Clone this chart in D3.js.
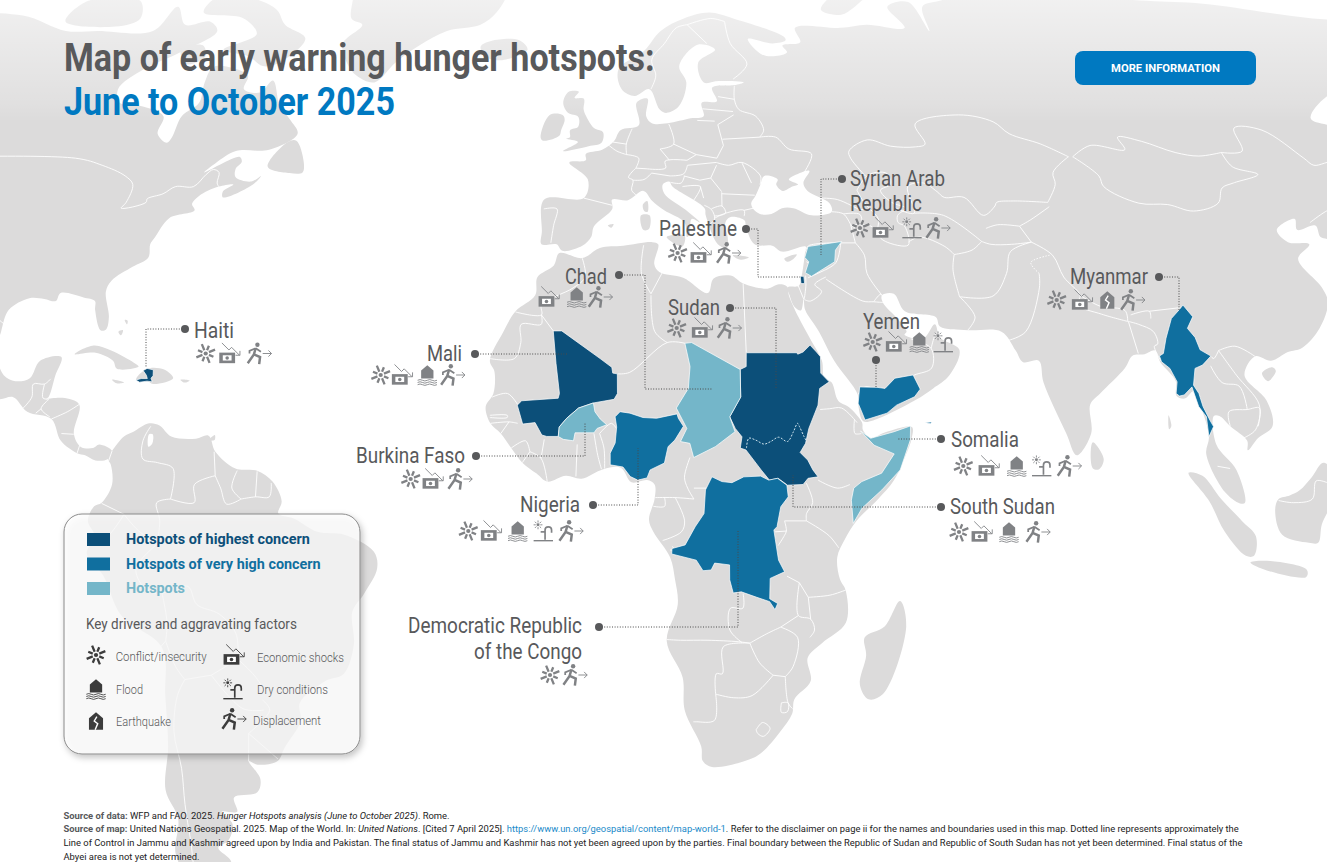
<!DOCTYPE html>
<html>
<head>
<meta charset="utf-8">
<script src="https://cdn.jsdelivr.net/npm/d3@7"></script>
<style>
	body { margin: 0; background: #fff; overflow: hidden; }
	svg { display: block; font-family: Roboto, sans-serif; }
</style>
</head>
<body>
<div id="chart"></div>
<script>
// Coastlines, [lon, lat]
const northAmerica = [[-140,60],[-140,70],[-128,70.5],[-115,68],[-108,68],[-96,68],[-95,72],[-90,69],[-85,69.5],[-82,68],[-87,64.5],[-92,62],[-94.5,59],[-92.5,57],[-88,56.5],[-82.5,55],[-82,52.5],[-79.5,51.2],[-79,52],[-79,55],[-77,57],[-78,60],[-78,62.4],[-73,62],[-70,61],[-69.5,59],[-66,58.5],[-64.5,60.3],[-61,56.5],[-58,54.5],[-55.7,52.5],[-60,50.2],[-66,50],[-69,48.3],[-70.5,47],[-65,49.2],[-64.3,48.5],[-65,47.5],[-64.5,46.3],[-61.5,45.7],[-60,46.5],[-61,45.3],[-65.7,43.5],[-66,44.3],[-64.5,45.3],[-67,45],[-70,43.7],[-70.8,42.6],[-70,41.7],[-74,40.6],[-75.5,38],[-76,37],[-75.7,35.2],[-78,33.9],[-81,32],[-81.5,30.5],[-80.2,27],[-80.3,25.3],[-81.2,25.2],[-82.7,28],[-83,29.2],[-85,29.7],[-89,30.3],[-89.5,29.2],[-91.5,29.5],[-94,29.6],[-97,28],[-97.5,25],[-97.8,22.3],[-96,19],[-94,18.2],[-91.7,18.6],[-90.4,21],[-87,21.5],[-87.6,19],[-88.3,16],[-88.7,15.8],[-86,15.9],[-83.2,15],[-83.7,11],[-82.5,9.2],[-80.5,9],[-79.5,9.5],[-77.4,8.6],[-78,7.5],[-80,7.3],[-81.7,8],[-83,8.3],[-85.7,10],[-87.5,13],[-91.5,14],[-94,16],[-96.5,15.7],[-101,17.3],[-105.5,20],[-105.5,22.5],[-109,26],[-112.5,30],[-114.7,31.5],[-117,32.5],[-120.5,34.5],[-124,40],[-124.5,48],[-130,54],[-135,58]];
const southAmerica = [[-77.4,8.6],[-75.6,10.6],[-74.2,11.2],[-71.7,12.4],[-70,12.1],[-68,10.6],[-64,10.3],[-62,10.7],[-60.8,8.5],[-57.5,6.2],[-54,5.9],[-51.5,4.4],[-50,1.7],[-50.5,0],[-48,-0.7],[-44.3,-2.5],[-40,-2.9],[-35.3,-5.2],[-34.8,-7.5],[-37,-11],[-39,-13.5],[-39,-18],[-40.9,-22],[-44,-23],[-48.5,-26],[-48.7,-28.5],[-52,-32.2],[-53.5,-34],[-57,-34.5],[-58.4,-34],[-57,-36.5],[-58,-38.3],[-62.2,-39],[-62.3,-41],[-65,-41],[-63.7,-42.7],[-65.3,-45],[-67.5,-46],[-66,-48],[-69,-51],[-68.5,-52.5],[-70,-53.5],[-74,-52],[-75.6,-47],[-73,-42],[-73.7,-38],[-71.5,-32],[-70.5,-25],[-70.2,-18.4],[-76.3,-14],[-78.8,-8.5],[-81.3,-5.5],[-80,-3],[-81,-1],[-80,1],[-78.8,1.5],[-77.2,4],[-77.5,6.7],[-78,7.5]];
const africa = [[-5.9,35.8],[-2,35.1],[1,36.5],[5,36.8],[10,37.3],[11,37],[10.2,34.3],[11,33.2],[15,32.4],[19,30.3],[20.1,32.3],[23,32.7],[25,31.6],[29,30.9],[31,31.5],[32.3,31.2],[32.5,29.9],[33.8,27],[35.5,24],[37.2,21],[37.4,18.7],[38.6,18],[39.5,15.5],[41.2,14.6],[43.2,12.5],[43.3,11.5],[44.5,10.4],[47,11.2],[51.2,11.9],[51.1,10.4],[49.5,7],[48,4.5],[45.5,2],[42,-1],[40.2,-3.5],[39,-6],[39.5,-9],[40.5,-10.6],[40.7,-15],[37,-17.8],[34.8,-19.8],[35.5,-23],[33,-25.5],[32.8,-27.5],[31,-30],[28,-33],[25.5,-34],[20,-34.8],[18.4,-34],[18,-32],[15,-27],[14.5,-22.5],[11.8,-17.5],[13.5,-12.5],[13,-9],[12.2,-6],[9.5,-2.5],[8.8,-0.8],[9.7,2],[9.7,4],[8.5,4.6],[6,4.3],[4.3,6.3],[1.5,6.1],[-2,4.8],[-4.5,5.2],[-7.5,4.4],[-9.2,5.5],[-11.5,7],[-13.3,9],[-15,11],[-16.7,12.4],[-17.5,14.7],[-16.3,16.5],[-16.2,19.5],[-17,21],[-14.9,25],[-13,27.8],[-9.8,30],[-9.5,32.5],[-6.8,34.1]];
const eurasia = [[-9,38.7],[-8.8,43.2],[-1.8,43.4],[-1.1,46],[-4.5,48.4],[-1.5,48.7],[-1.5,49.6],[1.5,50.2],[3.7,51.4],[5,53],[8.5,53.7],[8.3,57],[10.5,57.6],[10,55],[11,54],[14,54],[18.5,54.7],[21,55],[21,57],[24,57.2],[23.5,59.2],[28,59.6],[30,60],[25,60.2],[22,60],[21.5,63],[25.5,65],[22,65.8],[17.5,62.5],[18.5,60],[16.5,56.5],[14,55.5],[12.7,56],[11,59],[8,58],[5.5,59],[5,62],[10.5,64.8],[14.5,68],[20,70],[26,71],[31,70],[41,67],[41,66.5],[38,66],[33,66.7],[35,64.3],[37.5,64],[40.5,64.6],[40,65.7],[44,66.2],[44,68.5],[54,68.5],[60,69],[68,68.5],[67,72],[72.5,72.8],[73,68],[75,72],[80,73],[105,77],[113,74],[128,73],[140,72.5],[160,70],[180,69],[180,65],[177,62.5],[163,60],[162,56],[156,51],[156,57],[163,62],[155,59],[146,58.5],[137,54.7],[141,53],[140,48],[135,43.5],[130.7,42.3],[127.5,39.8],[129.4,37],[129,35.2],[126.4,34.5],[126.5,37.5],[125,38],[125,39.6],[121.5,39],[122,40.5],[118,39],[119,37.3],[122.5,37],[119.5,35],[121.8,31],[122,29],[119.5,25.5],[116,22.8],[113.5,22.2],[110.5,21],[108,21.6],[105.8,19],[108.8,15.5],[109.3,12],[106.8,10.4],[105,8.7],[105,10],[102.5,12],[100.9,13.4],[100,13.4],[100,9.5],[103,6],[104.2,1.5],[103.4,1.4],[101,3],[98.3,8.2],[98.9,10.5],[98.4,13.5],[97.2,16.8],[95.6,15.8],[94.3,16.2],[94.5,18.2],[92.4,20.8],[91.8,22.4],[90,21.9],[88,21.7],[86.5,20],[82,16.5],[80.2,15],[80,11],[77.5,8],[76,11],[73,18],[72.6,21],[70,20.8],[69,22.4],[67,25],[61.5,25.2],[57,25.7],[56.5,27],[51.5,27.8],[50,30.2],[48,30],[48,29],[50.2,26.7],[51.4,25],[51,24.6],[54,24],[56.2,26],[56.8,24.2],[59.8,22.5],[57.8,19],[55,17.2],[52,15.6],[45,12.8],[43.4,12.7],[42.7,15],[42.7,16.4],[39.2,21],[37,25],[35,28],[34.9,29.5],[34.3,27.9],[33.2,28.5],[32.6,30],[32.4,31.1],[34.3,31.3],[35,32.8],[36,36],[36.2,36.7],[32,36],[30.5,36.8],[27.5,37],[26.3,39.5],[26.2,40.3],[24,40.8],[23,40.3],[22.7,39.5],[23,38],[22.7,36.5],[21.2,37],[19.5,41],[19.4,42],[14,45],[13.5,45.7],[12.3,45.3],[12.5,44],[16,41.8],[18.4,40],[17,40.5],[16.5,38.5],[16,38],[15.7,40],[12.3,41.7],[10.3,43],[8.8,44.4],[6,43.1],[3.2,43.2],[3.2,41.9],[0,39.5],[-0.5,38],[-2,36.8],[-5.4,36.1],[-6.4,37],[-9,37]];
const islands = [
	[[-73,78],[-68,76],[-58,75.5],[-54,70],[-51,69],[-53.5,66],[-51,63],[-48,61],[-44,60],[-41,63],[-37,65.7],[-32,68],[-25,69],[-22,71],[-20,75],[-20,80],[-60,82]],
	[[-80,73.5],[-72,71.5],[-68,69],[-62,66.8],[-65,63],[-68,62.5],[-72,64],[-78,65],[-73,67.5],[-78,70],[-88,71],[-88,73.5]],
	[[-117,73],[-117,69.5],[-105,68.7],[-101,70],[-105,73]],
	[[-87,65],[-83,65.7],[-81,64],[-84,62.8]],
	[[-59.3,47.8],[-57,51.3],[-55.5,51.5],[-53,48.5],[-52.7,47],[-55,46.9]],
	[[-84.9,21.9],[-82,23.1],[-79,22.4],[-75,20.7],[-74.2,20.2],[-77.7,19.9],[-78.5,21],[-81.5,22.1]],
	[[-74.4,18.4],[-72.8,19.9],[-70,19.8],[-68.4,18.6],[-71.5,17.8],[-72.5,18.2]],
	[[-78.3,18.4],[-76.3,18],[-77.5,17.9]],
	[[-67.2,18.4],[-65.7,18.3],[-66.5,18]],
	[[-78.2,25],[-77.7,24.5],[-77.5,25.2]],
	[[-77.5,26.6],[-77,26.5],[-77,26]],
	[[-61.9,10.1],[-61,10.8],[-61,10.1]],
	[[49.3,-12],[50.5,-15.5],[47.5,-24.8],[45.2,-25.5],[43.6,-23.5],[44.3,-19.5],[43.9,-17],[47,-15.5]],
	[[-5.7,50],[-1,50.7],[1.4,51.2],[1.7,52.7],[0,53.3],[-1.5,55],[-2,56],[-2,57.6],[-3.8,57.7],[-3,58.6],[-5,58.6],[-6,57],[-5,55.5],[-3,54.9],[-3,53.5],[-4.5,53],[-4.5,52],[-5.2,51.8],[-3,51.3]],
	[[-10,52],[-8.5,55.2],[-6,55.2],[-5.6,54.5],[-6.2,53],[-6.5,52.2],[-9.5,51.5]],
	[[-24,65.5],[-22,66.4],[-16,66.5],[-14,65],[-19,63.4],[-22.5,63.9]],
	[[12.5,38],[15.6,38.2],[15.1,36.7]],
	[[8.2,41],[9.7,41],[9.5,39.1],[8.5,39]],
	[[8.6,42.5],[9.4,43],[9.4,41.5],[8.8,41.6]],
	[[32.3,35],[34.5,35.6],[33.7,34.9],[32.8,34.6]],
	[[23.6,35.5],[26.3,35.2],[24.7,34.9]],
	[[2.4,39.6],[3.4,39.8],[3,39.3]],
	[[51.5,71.5],[56,74],[68,77],[68,76],[57,71],[55,70.6]],
	[[142,54.3],[143.5,52],[143,49],[143.5,46.2],[142,46],[142,49]],
	[[140,42],[141.7,45.4],[145.3,43.7],[143,42],[141,42.5]],
	[[108.7,19.3],[110.5,20.1],[111,19.6],[109.5,18.2]],
	[[79.8,8.8],[80.2,9.8],[81.8,7.5],[81,6.1],[80,6.2]],
	[[95.3,5.6],[97.5,5.2],[100.4,2],[103.7,-1],[106,-3.1],[105.8,-5.8],[104.5,-5.8],[101,-2.5],[98.5,1.7]],
	[[105.3,-6.7],[108.5,-6.5],[114.4,-7.7],[114.4,-8.7],[108,-7.8]],
	[[109,0.5],[109.6,2],[111.4,2.5],[113,3.2],[115,5],[117,7],[119,5],[117.8,1],[116.5,-1.5],[116,-4],[114.5,-4],[110.2,-2.9]],
	[[92.7,13.5],[93,12],[92.6,11.6]],
];
// Enclosed water that the coast rings above do not cut out
const seas = [
	[[29,41.2],[28,41.8],[27.7,42.7],[28.6,43.7],[29.7,45.2],[30.7,46.5],[33,46],[32.6,45.3],[33.6,44.4],[35.4,45],[36.5,45.3],[35,46],[37.5,47],[39,47.2],[37.5,45.5],[38,44.4],[41.5,42.7],[41.6,41.5],[38,41],[35,42],[33,42],[31,41.2]],
	[[-71.6,10.9],[-71,10.9],[-71,9.6],[-71.6,9.2]],
];
// Country borders, drawn white over the land
const borders = [
	[[-130,49],[-95,49],[-89.5,48],[-84.5,46.5],[-82.5,45.3],[-82.5,42.8],[-83,42],[-79,42.8],[-79,43.3],[-76.5,44],[-74.7,45],[-71.5,45],[-70,46.7],[-69,47.4],[-67.8,47],[-67.5,45.5],[-67,45]],
	[[-117,32.5],[-114.7,32.5],[-111,31.3],[-108,31.5],[-106.5,31.7],[-104.5,29.5],[-103,29],[-101.5,29.8],[-99.5,27.5],[-97.2,26]],
	[[-92.2,14.5],[-91,16],[-91,17.8],[-89.2,17.8],[-88.3,18.5]],[[-89.2,17.8],[-89.2,15.9],[-88.3,15.7]],[[-88.2,15.7],[-89.3,14.4],[-87.8,13.3]],[[-89.3,14.4],[-90.1,13.8]],
	[[-87.5,13],[-85,14],[-83.2,15]],[[-85.7,11],[-83.7,10.9]],[[-83,8.3],[-82.6,9.5]],[[-77.9,7.2],[-77.4,8.6]],
	[[-71.4,12],[-72.5,10],[-72.4,7.5],[-70,7],[-67.5,6.2],[-67.8,2]],[[-67.8,2],[-70,1.5],[-69.5,-1],[-70,-4.2]],[[-70,-4.2],[-73,-2.3],[-75.2,-0.1]],[[-75.2,-0.1],[-78.8,1.4]],[[-75.2,-0.1],[-78.3,-3.4],[-80.2,-3.5]],
	[[-67.8,2],[-64,1.5],[-64,4],[-60.7,5.2]],[[-60.7,5.2],[-61,8.5]],[[-60.7,5.2],[-59.8,3.5],[-58.8,1.3],[-56.5,2]],[[-57.2,5.9],[-58,3.5],[-56.5,2]],[[-54,5.8],[-54.2,2.3]],[[-56.5,2],[-54.2,2.3],[-52,2.3],[-51.7,4.2]],
	[[-70,-4.2],[-73.5,-7.5],[-72.5,-10],[-70.5,-11]],[[-69.5,-11],[-69,-15],[-69.5,-17.5]],[[-69.5,-11],[-65.3,-10],[-64,-12.5],[-60.5,-13.8],[-58,-16.5],[-58,-20]],[[-58,-20],[-62.6,-22.2]],[[-62.6,-22.2],[-67,-22.8]],[[-69.5,-17.5],[-68.3,-21],[-67,-22.8]],[[-69.5,-17.5],[-70.4,-18.3]],
	[[-67,-22.8],[-68.5,-25],[-70,-30],[-70,-35],[-71,-40],[-72,-45],[-73,-50],[-69,-52]],[[-58,-20],[-55.5,-22.3],[-54.3,-24]],[[-62.6,-22.2],[-58,-26.8],[-54.6,-27]],[[-54.6,-25.6],[-53.6,-27],[-57.6,-30.2]],[[-57.6,-30.2],[-53.4,-33.7]],[[-57.6,-30.2],[-58.4,-34]],
	// Europe
	[[-8.8,41.9],[-6.5,41.9],[-7,39.6],[-7.4,37.2]],[[-1.8,43.4],[3.2,42.4]],[[2.5,51],[4.2,50],[6,49.5]],[[6,49.5],[8.2,49],[7.6,47.6]],[[7.6,47.6],[6.2,46.3],[7,45.9],[6.7,44.5],[7.5,43.8]],[[3.5,51.3],[6,51]],[[7.2,53.2],[6,51],[6,49.5]],[[7.6,47.6],[9.6,47.5]],[[7,45.9],[9,46],[10.4,46.9]],[[9.6,47.5],[13,47.6],[13,48.6],[17,48.7]],[[10.4,46.9],[13.7,46.5]],[[13.7,46.5],[16.2,46.8],[17,48]],
	[[14.2,53.9],[14.8,51],[12.2,50.3]],[[12.2,50.3],[13.8,48.7]],[[14.8,51],[18.8,49.5]],[[17,48.7],[18.8,49.5]],[[18.8,49.5],[22.5,49]],[[17,48],[22.3,48.4]],[[22.5,49],[24,50.8]],[[24,50.8],[23.5,53.8]],[[19.7,54.4],[23,54.3]],[[23.5,53.8],[26.8,55.2]],[[21,56.1],[26.8,55.7]],[[24.4,57.9],[27.5,57.5]],[[28,59.5],[27.5,57.5],[28,56],[31,55],[32,53],[31,52]],[[24,51.7],[31,52]],[[31,52],[34,52],[36,50.3],[40,49.6],[38,47]],
	[[22.3,48.4],[24.5,48],[27,48.4],[30,46.5],[29.7,45.3]],[[27,48.3],[28.2,45.5]],[[22.3,48],[21,46.2]],[[21,46.2],[22.7,44.3]],[[22.7,44],[28.5,43.8]],[[16.2,46.5],[19,45.9]],[[19,45.9],[21,46.2]],[[15.8,45],[19,45],[17.5,43]],[[19,45],[19.4,43.4]],[[13.7,45.6],[15.6,45.5],[16.3,46.5]],[[22.7,44.2],[22.5,42.3]],[[19.4,42.4],[20.6,41.8],[21,40.5],[20,39.7]],[[20.6,41.9],[22.5,42.3],[23,41.3],[21,40.9]],[[21,40.6],[23,41.3],[26.3,41.7],[26.2,40.9]],[[26.3,41.7],[28,42]],
	[[11.3,59],[12.5,61],[12,63.5],[15,66],[18,68.5],[20.5,69]],[[20.5,69],[24,66]],[[20.5,69],[26,70],[28.9,69.5]],[[28.9,69.5],[29,66],[31.5,62.8],[28,60.5]],
	// Middle East and Central Asia
	[[36,36],[36.7,36.8],[42.3,37.2]],[[42.3,37.2],[41,34.5],[38.8,33.4]],[[38.8,33.4],[36,32.4]],[[36,34.6],[36.6,34.2],[35.8,33.3]],[[35.6,32.7],[35.5,31.4],[35,29.5]],[[34.2,31.3],[34.9,29.5]],[[39,32.5],[37,31.5],[38,30.5],[36,29.2],[35,29.4]],[[39,32.2],[44.7,29.2],[46.5,29.1],[48,29]],[[46.5,29.1],[47.7,30.1],[48,30]],[[48,30],[46,33],[46,35.5],[44.8,37.2]],[[42.3,37.2],[44.8,37.2]],[[44.8,37.2],[44.5,39.7]],[[41.6,41.5],[43.6,41.2],[44.5,39.7]],[[43.6,41.2],[46.5,41.1],[46,38.9],[44.5,39.7]],[[40,43.4],[43,43.2],[46.5,41.8]],[[46.5,41.8],[48.5,41.8]],[[44.8,39.7],[48,39.5],[48.9,38.4]],
	[[42.8,16.4],[44,17.4],[47,16.9],[52,19],[55,20],[55.2,22.7],[52,24]],[[55.2,22.7],[56,24.5],[56.4,24.9]],
	[[46.8,44.5],[47.5,43],[48.5,41.8],[49.5,40.5],[48.9,38.4],[50,37.4],[53.8,36.9],[53.8,39.5],[52.8,40],[53,41],[54.7,42],[52.5,42.8],[51,44.5],[53,45.3],[53,46.8],[51,47],[49,46.4],[46.8,44.5]],
	[[49,46.4],[47,49],[47,50],[51,51.6],[55,50.7],[59.5,50.6],[61.5,51],[61,53.9],[70,55.2],[76,54.2],[78,52.5],[83,51],[87,49.2]],[[87,49.2],[83,47],[82.5,45.3],[80,42.8]],
	[[53,42],[56,41.3],[56,45],[59,45.5],[61,44.3],[62,43.5],[65.5,43.5],[68,41],[70.5,42.3],[71,42.8],[74,43],[80,42.8]],[[80,42.2],[76,40.4],[73.7,39.5]],[[73.7,39.5],[70,39.7],[67.8,39.2]],[[73.7,39.5],[75,37.3]],[[75,37.3],[71.5,37],[68,37],[66.5,37.4]],[[66.5,37.4],[64.5,36.2],[61.3,35.6]],[[61.3,35.6],[60,36.7],[56,38],[53.9,37.3]],[[56,41.3],[61,41],[66.5,37.4]],[[61.3,35.6],[60.6,33.5],[60.9,29.8]],[[60.9,29.8],[66.5,29.9],[69.5,33],[71,36],[75,37.3]],[[60.9,29.8],[63,27],[61.5,25.2]],[[68,23.8],[71,25],[74.5,31],[75,33]],
	[[75,37.3],[78,35.5],[79,32.5],[81,30],[80.3,28.7],[84,27.4],[88.1,26.4]],[[81,30],[84,28.5],[88,27.9],[88.1,26.4]],[[88.8,27.3],[92,27.8],[92,26.8]],[[92,27.8],[97.3,28.3]],[[88.2,26.4],[89,22]],[[88.2,26.4],[89.8,26],[92,25],[92.4,23.3],[91.8,23],[92.5,21]],
	// East and South-East Asia
	[[87.8,49.2],[91,46.5],[91,45],[96,42.7],[101,42.5],[105,41.6],[110,42.7],[112,44.8],[114.5,45.5],[119.8,46.7],[116,47.8],[115.5,49.8]],[[87.8,49.2],[92,50.8],[98,50.2],[98,52],[102,51.4],[107,49.8],[111,49.3],[115.5,49.8]],[[115.5,49.8],[119.5,50],[121,53.3],[126,53],[130,49],[131,48],[135,48.4],[133,45],[131,43],[130.7,42.3]],[[124.3,40],[128,41.5],[130.7,42.3]],[[126.7,37.8],[128.4,38.6]],
	[[108,21.6],[105,23],[102.2,22.4]],[[102.2,22.4],[101.2,21.3],[100.8,21.6]],[[102.2,22.4],[104.5,19],[107.5,15],[107,12]],[[100.5,20.3],[102,18],[104.7,17.5],[105.5,14.3]],[[102.5,12],[102.5,14],[105.5,14.3],[107.5,14.5],[106.5,11.5],[104.5,10.4]],[[100,6.5],[102,6.2]],[[109.6,1.8],[112,1.5],[115,2],[115.7,4.5],[117.6,4.2]],
	// Africa
	[[-2,35.1],[-1.5,32.5],[-3.5,31],[-8.7,28.7],[-8.7,27.3],[-13,27.7]],[[-8.7,27.3],[-8.7,26],[-12,26],[-12,23.5],[-13,21.3],[-17,21.3]],[[-8.7,27.3],[-6.7,25.1]],[[-16.5,16],[-14,16.5],[-12.2,14.8]],[[-16.8,13.5],[-14,13.5],[-14,13.2],[-16.8,13.2]],[[-16.7,12.4],[-13.7,12.6],[-12.3,12.4]],[[-13.7,12.6],[-15,11]],[[-13.3,9],[-11,10],[-10.3,8.5]],[[-11.5,7],[-10.3,8.5]],[[-10.3,8.5],[-8.5,7.6],[-7.5,4.4]],[[-8.5,7.6],[-8,10.2]],[[-2.9,5.1],[-2.7,9.5]],[[0,11],[0.6,8],[1.2,6.1]],[[0.9,11],[1.6,9],[1.7,6.2]],[[3.6,11.7],[2.8,12.4],[0.9,11]],
	[[3.8,19.2],[5.8,19.4],[12,23.5],[14.9,23.4]],[[9.5,30],[10,25],[12,23.5]],[[8.5,36.9],[8,33],[9.5,30.2]],[[11.5,33.1],[9.5,30.2]],[[25,31.6],[24.9,22.1]],[[15.4,7.7],[14.5,5],[15,3.5],[16,2]],[[16,3.5],[18.6,3.5]],[[16,2],[13,2.2],[9.8,2.2]],[[11.3,2.2],[11.3,1],[9.5,1]],[[13,2.2],[14.5,-1],[14,-2.5],[11,-3.7]],
	[[34,4.2],[35,1.5],[34,0],[34,-1]],[[34,-1],[37.6,-3],[39.2,-4.7]],[[30.5,-1],[34,-1]],[[29,-2.5],[30.8,-2.4]],[[30.5,-1],[30.8,-2.4],[30.5,-3],[29.5,-4.4]],[[35.9,4.6],[39,3.5],[41,4]],[[36.5,14.3],[38,14.4],[40,14.5],[42.4,12.5]],[[42,12.9],[42,11],[43,11]],
	[[31,-8.6],[33,-9.5]],[[33,-9.5],[34.5,-11.5]],[[34.5,-11.5],[38,-11.2],[40.5,-10.5]],[[33,-9.5],[33,-14],[35,-14.5],[35.7,-16],[35,-17]],[[34.5,-11.5],[35,-14.5]],[[33,-14],[30.2,-15.6]],[[30.2,-15.6],[33,-17],[32.5,-21],[31.3,-22.4]],[[31.3,-22.4],[32,-26],[32.8,-26.8]],[[30.2,-15.6],[28,-16.5],[25.3,-17.8]],[[25.3,-17.8],[27,-20.5],[29.3,-22.2]],[[29.3,-22.2],[31.3,-22.4]],[[29.3,-22.2],[26,-25],[23,-25.3],[20,-24.8]],[[25.3,-17.8],[21,-18.3],[21,-22],[20,-22],[20,-24.8]],[[20,-24.8],[20,-28.4],[17,-28.6],[16.5,-28.6]],[[11.8,-17.3],[14,-17.4],[18.5,-17.4],[23.4,-17.6],[25.3,-17.8]],[[24,-17.7],[22,-16],[22,-13],[24,-13],[24,-11]],[[12.2,-5],[13,-5],[12.5,-4.5]],
	[[27,-29.7],[28,-28.7],[29.3,-29.5],[28.3,-30.6],[27.3,-30.2],[27,-29.7]],[[30.9,-26],[32,-26],[32,-27.2],[31,-27.3],[30.9,-26]],
];
// Dotted lines: Jammu and Kashmir, Sudan / South Sudan
const kashmirLine = [[75,33],[74,34.5],[77.5,35.5]];
const sudanLine = [[24.5,9],[24.9,10.35],[26,10.1],[27.3,9.55],[28.4,9.9],[29.7,10.5],[31.1,9.9],[32.1,11.25],[32.8,12.4],[33.1,11.95],[33.8,10.55],[34.2,9.9]];

// Hotspot countries
const haiti = [[-74.45,18.35],[-73.6,18.55],[-72.6,18.55],[-72.8,19],[-73.4,19.65],[-72.8,19.95],[-71.75,19.75],[-71.7,18.95],[-72,18.6],[-71.75,18.1],[-72.6,18.2],[-73.8,18.05]];
const mali = [[-6.7,25.1],[-5.3,25.1],[1,21.3],[2.9,20.1],[3.05,19.3],[3.8,19.2],[3.8,16.5],[3.25,15.7],[-0.1,15.2],[-2.5,14.5],[-4.4,13.1],[-5.6,11.9],[-5.75,10.6],[-7.6,10.6],[-8.4,10.8],[-9.5,12.5],[-11.5,12.3],[-12.4,14.9],[-11.7,15.5],[-5.8,15.85],[-5.6,16.5],[-6.2,20.65]];
const burkinaFaso = [[-0.1,15.2],[-2.5,14.5],[-4.4,13.1],[-5.6,11.9],[-5.75,10.6],[-4.95,10.2],[-3.3,10],[-3.05,11.1],[0,11.1],[0.5,11.7],[2.05,12.2],[1,13],[0.15,14]];
const nigeria = [[4.2,14],[5.8,13.8],[7.9,13.2],[10.1,13.1],[13.4,13.7],[13.6,13.1],[14.4,12],[13,10.1],[11.9,9.2],[11.3,6.95],[9,6],[8.5,4.9],[7,4.6],[5.8,5.1],[4.65,6.4],[2.6,6.7],[2.6,8.3],[3.4,9.7],[3.65,11.9],[3.4,13.3]];
const chad = [[14.9,23.4],[16,23.5],[23.8,19.8],[23.75,16],[21.9,13.3],[22.7,11.25],[19.5,9.2],[16,7.7],[15.4,9.65],[13.9,9.9],[14.95,11.7],[13.3,14.5],[15.3,17.2],[15.65,20.2]];
const sudanAndSouthSudan = [[24.9,22.1],[33.2,22.1],[33.3,21.9],[34.2,22.2],[35.4,23.15],[36.4,22.2],[37,21.55],[36.9,19.3],[38.2,18.1],[36.6,17.2],[36.2,14.9],[34.6,11.7],[34,9.65],[33.1,8.4],[34.3,7.35],[35.1,6],[35.9,5.05],[34.3,4.85],[33.5,4],[31,3.9],[29.5,4.85],[28.1,4.6],[26.8,6],[24.4,8.75],[23.5,9],[23.8,10.55],[22.75,11.7],[21.9,13.3],[23.75,16.05],[23.8,19.8],[24.8,20.2]];
const drc = [[12.5,-4.8],[14.6,-4.3],[16.2,-1.8],[17.6,0],[17.85,3.25],[18.9,5.05],[20.5,4.4],[22.1,4.25],[24,5.05],[26.7,5.15],[28,4.6],[29.4,4.85],[30.9,3.9],[31.1,2.3],[29.9,0.95],[29.3,-1.8],[28.8,-2.25],[29.05,-3.6],[29.6,-6.4],[30.6,-8],[28.3,-8.9],[28.3,-11.7],[29.6,-12.35],[29.2,-13.2],[28.3,-12.1],[26.2,-11.5],[23.7,-10.75],[22.4,-10.9],[21.8,-9.1],[21.75,-7.05],[19.35,-6.8],[18.8,-7.75],[17.5,-7.85],[16.4,-6.4],[12.45,-5.55]];
const yemen = [[43.1,17.4],[45.9,17.35],[47.2,17.2],[48.9,18.6],[51.9,19.05],[52.9,17.1],[51.9,16.05],[48.9,14.9],[47.3,13.8],[43.7,12.85],[43.3,13.8],[42.7,15.15]];
const socotra = [[53.3,12.5],[54.5,12.6],[54.2,12.35]];
const somalia = [[42.9,11.35],[44.5,10.35],[48.3,11.25],[51,12.05],[50.85,10.1],[49.1,6],[46.1,3.25],[42.9,0.75],[41.5,-1.35],[41.2,1.85],[41.6,3.5],[42.9,4.4],[46.1,5.55],[48.2,8.2],[45,9.4]];
const syria = [[36.6,36.7],[42.5,37.4],[41.2,36.2],[40.8,34.6],[36.6,32.6],[35.6,33.1],[36.4,34.6],[35.8,35.2]];
const palestine = [[34.7,32.6],[35.3,32.6],[35.3,31.6],[34.7,31.6]];
const myanmar = [[97.8,28.65],[99,27.05],[97.7,25.45],[98.7,24.2],[99.2,22.5],[100.8,21.65],[99.2,20.4],[97.9,19.95],[97.3,17.65],[98,16.5],[98.4,14.7],[99.3,12.85],[99.8,11.95],[98.9,10.55],[98.8,13.3],[97.7,14.7],[97,17.4],[95.6,16.3],[94.8,16.15],[94.3,16.5],[94.7,18.1],[93.8,19.95],[92.6,20.85],[92.4,21.65],[93.1,22],[93.9,24.1],[95.4,26.8],[97,28]];

const levelNames = ["Hotspots of highest concern", "Hotspots of very high concern", "Hotspots"];
const levelColors = ["#0c4f79", "#106f9f", "#74b6c9"];
const highestConcern = [haiti, mali, sudanAndSouthSudan, palestine];
const veryHighConcern = [nigeria, drc, yemen, socotra, myanmar];
const plainHotspots = [burkinaFaso, chad, somalia, syria];

// Drivers per hotspot
const driverNames = ["Conflict/insecurity", "Economic shocks", "Flood", "Dry conditions", "Earthquake", "Displacement"];
const driverKeys = ["conflict", "economic", "flood", "dry", "quake", "displacement"];

// Robinson projection table
const robinsonLat = [0,5,10,15,20,25,30,35,40,45,50,55,60,65,70,75,80,85,90];
const robinsonWidth = [1,.9986,.9954,.99,.9822,.973,.96,.9427,.9216,.8962,.8679,.835,.7986,.7597,.7186,.6732,.6213,.5722,.5322];
const robinsonHeight = [0,.062,.124,.186,.248,.31,.372,.434,.4958,.5571,.6176,.6769,.7346,.7903,.8435,.8936,.9394,.9761,1];

const W = 1327, H = 862;
const widthAt = d3.scaleLinear().domain(robinsonLat).range(robinsonWidth);
const heightAt = d3.scaleLinear().domain(robinsonLat).range(robinsonHeight);
const xScale = d3.scaleLinear().domain([-100, 100]).range([594 - 625, 594 + 625]);
const yScale = d3.scaleLinear().domain([-1, 1]).range([513.6 + 587, 513.6 - 587]);
const px = (d) => xScale(d[0] * widthAt(Math.abs(d[1])));
const py = (d) => yScale(Math.sign(d[1]) * heightAt(Math.abs(d[1])));

const smoothRing = d3.line().x(px).y(py).curve(d3.curveCatmullRomClosed.alpha(0.5));
const sharpRing = d3.line().x(px).y(py).curve(d3.curveLinearClosed);
const borderLine = d3.line().x(px).y(py).curve(d3.curveCatmullRom.alpha(0.5));

const svg = d3.select("#chart").append("svg").attr("width", W).attr("height", H).attr("viewBox", `0 0 ${W} ${H}`);
const defs = svg.append("defs");

const fade = defs.append("linearGradient").attr("id", "topFade").attr("x1", 0).attr("x2", 0).attr("y1", 0).attr("y2", 1);
fade.append("stop").attr("offset", 0).attr("stop-color", "#fff").attr("stop-opacity", 0.6);
fade.append("stop").attr("offset", 0.85).attr("stop-color", "#fff").attr("stop-opacity", 0.14);
fade.append("stop").attr("offset", 1).attr("stop-color", "#fff").attr("stop-opacity", 0);

const shadow = defs.append("filter").attr("id", "boxShadow").attr("x", "-10%").attr("y", "-10%").attr("width", "120%").attr("height", "120%");
shadow.append("feDropShadow").attr("dx", 2).attr("dy", 3).attr("stdDeviation", 3).attr("flood-color", "#000").attr("flood-opacity", 0.3);

// Land
svg.append("g").attr("fill", "#dcdbdb")
	.selectAll("path").data([northAmerica, southAmerica, africa, eurasia, ...islands]).join("path")
	.attr("d", smoothRing);
svg.append("g").attr("fill", "#fff")
	.selectAll("path").data(seas).join("path")
	.attr("d", smoothRing);
svg.append("g").attr("fill", "none").attr("stroke", "#fff").attr("stroke-width", 0.9)
	.selectAll("path").data(borders).join("path")
	.attr("d", borderLine);
svg.append("path").attr("d", borderLine(kashmirLine)).attr("fill", "none").attr("stroke", "#fff").attr("stroke-width", 0.9).attr("stroke-dasharray", "1.5 1.5");

svg.append("rect").attr("width", W).attr("height", 122).attr("fill", "url(#topFade)");

// Hotspots
[highestConcern, veryHighConcern, plainHotspots].forEach((group, i) => {
	svg.append("g").attr("fill", levelColors[i]).attr("stroke", "#fff").attr("stroke-width", 0.7).attr("stroke-linejoin", "round")
		.selectAll("path").data(group).join("path")
		.attr("d", sharpRing);
});
svg.append("path").attr("d", borderLine(sudanLine)).attr("fill", "none").attr("stroke", "#cfe4ee").attr("stroke-width", 1).attr("stroke-dasharray", "2 1.5");

// Icons, drawn around 0,0
const rays = d3.range(8).map((i) => {
	const a = (i * Math.PI) / 4 + Math.PI / 8;
	const long = i % 2 ? 11.5 : 9.5;
	return `M${4 * Math.cos(a)},${4 * Math.sin(a)}L${long * Math.cos(a)},${long * Math.sin(a)}`;
}).join("");
const sunRays = d3.range(8).map((i) => {
	const a = (i * Math.PI) / 4;
	return `M${-6 + 2.6 * Math.cos(a)},${-7 + 2.6 * Math.sin(a)}L${-6 + 5 * Math.cos(a)},${-7 + 5 * Math.sin(a)}`;
}).join("");

function drawIcon(g, key) {
	const c = g.attr("data-color");
	const line = (d, w) => g.append("path").attr("d", d).attr("fill", "none").attr("stroke", c).attr("stroke-width", w);
	const fill = (d) => g.append("path").attr("d", d).attr("fill", c);
	if (key === "conflict") {
		line(rays, 2.6);
		g.append("circle").attr("r", 2.4).attr("fill", c);
	} else if (key === "economic") {
		fill("M-13,-1H5V11H-13Z");
		g.append("rect").attr("x", -9).attr("y", 2).attr("width", 10).attr("height", 6).attr("fill", "#fff");
		g.append("circle").attr("cx", -4).attr("cy", 5).attr("r", 2).attr("fill", c);
		line("M-10,-12L-2,-4L1,-7L10,2", 1);
		line("M5.5,2H10.5V-3", 1);
	} else if (key === "flood") {
		fill("M-7,4V-5L0,-11L7,-5V4Z");
		[6, 8.5, 11].forEach((y) => line(`M-11,${y}q2.75,-1.6 5.5,0t5.5,0t5.5,0t5.5,0`, 1));
	} else if (key === "dry") {
		line(sunRays, 1);
		g.append("circle").attr("cx", -6).attr("cy", -7).attr("r", 1.7).attr("fill", c);
		line("M2,10V-1a3.7,3.7 0 0 1 7.4,0V2", 1.9);
		line("M-3,1H2", 1.9);
		line("M-11,11H11", 1.6);
	} else if (key === "quake") {
		fill("M-8,10V-3L0,-10L8,-3V10Z");
		g.append("path").attr("d", "M1,-5L-2,0L2,3L-1,10").attr("fill", "none").attr("stroke", "#fff").attr("stroke-width", 1.6);
	} else {
		g.append("circle").attr("cx", -1).attr("cy", -10).attr("r", 2.5).attr("fill", c);
		line("M-3,-6L-5,1L-12,11M-5,1L2,4L1,12", 2.8);
		line("M-3,-6L-10,-3V0M-3,-6L3,-2", 2);
		line("M5,0H15M11.5,-3.5L15,0L11.5,3.5", 1);
	}
}
function icon(parent, key, x, y, color, scale = 0.88) {
	const g = parent.append("g").attr("transform", `translate(${x},${y}) scale(${scale})`).attr("data-color", color);
	drawIcon(g, key);
}

// Text squeezed to the width it has in the picture (the condensed face is not installed)
function fitText(parent, parts, x, y, width, size, color, anchor = "start", weight = 400) {
	const t = parent.append("text").attr("font-size", size).attr("fill", color).attr("font-weight", weight).attr("text-anchor", anchor);
	(Array.isArray(parts) ? parts : [{ text: parts }]).forEach((p) => {
		const s = t.append("tspan").text(p.text);
		if (p.weight) s.attr("font-weight", p.weight);
		if (p.italic) s.attr("font-style", "italic");
		if (p.color) s.attr("fill", p.color);
	});
	const sx = width / t.node().getComputedTextLength();
	t.attr("transform", `translate(${x},${y}) scale(${sx},1)`);
	return t;
}

// Callouts
const hotspotLabels = ["Haiti", "Palestine", "Syrian Arab", "Republic", "Chad", "Sudan", "Yemen", "Myanmar", "Mali", "Burkina Faso", "Nigeria", "Somalia", "South Sudan", "Democratic Republic", "of the Congo"];
const labelLayout = [
	[194, 338, 40, "start"], [737, 236, 78, "end"], [850, 186, 95, "start"], [850, 211, 72, "start"], [565, 284, 42, "start"],
	[668, 315, 52, "start"], [863, 329, 57, "start"], [1070, 284, 78, "start"], [462, 361, 35, "end"], [465, 463, 109, "end"],
	[580, 512, 60, "end"], [951, 447, 68, "start"], [950, 514, 105, "start"], [582, 633, 174, "end"], [582, 659, 108, "end"],
];
const callouts = [
	[[185,329],[146,329],[146,368]],
	[[746,229],[758,229],[758,277],[800,277]],
	[[842,179],[821,179],[821,255]],
	[[619,275],[645,275],[645,389],[713,389]],
	[[730,308],[776,308],[776,388]],
	[[876,360],[876,388]],
	[[1159,277],[1179,277],[1179,310]],
	[[475,354],[568,354]],
	[[476,456],[585,456],[585,422]],
	[[593,505],[638,505],[638,448]],
	[[941,439],[898,439]],
	[[941,507],[793,507],[793,475]],
	[[599,627],[738,627],[738,530]],
];
const iconRows = [
	[["conflict", 205.7], ["economic", 230.7], ["displacement", 258.3], 353.5],
	[["conflict", 677.6], ["economic", 702], ["displacement", 727.6], 253],
	[["conflict", 860], ["economic", 884], ["dry", 912], ["displacement", 937], 228],
	[["economic", 550], ["flood", 576.7], ["displacement", 599.3], 297],
	[["conflict", 676.7], ["economic", 703.3], ["displacement", 728.3], 328],
	[["conflict", 872.7], ["economic", 897.3], ["flood", 919.3], ["dry", 943.3], 342],
	[["conflict", 1056.7], ["economic", 1083.3], ["quake", 1107.3], ["displacement", 1131.7], 300],
	[["conflict", 380.7], ["economic", 403.3], ["flood", 427.3], ["displacement", 451.7], 375],
	[["conflict", 410.7], ["economic", 434], ["displacement", 459], 479],
	[["conflict", 468.3], ["economic", 492.3], ["flood", 517.7], ["dry", 543.3], ["displacement", 570], 531],
	[["conflict", 963.3], ["economic", 990], ["flood", 1016.7], ["dry", 1041.7], ["displacement", 1068.3], 466],
	[["conflict", 959], ["economic", 983], ["flood", 1009], ["displacement", 1037], 532],
	[["conflict", 550], ["displacement", 574], 675],
];

const calloutG = svg.append("g");
const straight = d3.line();
callouts.forEach((pts) => {
	calloutG.append("path").attr("d", straight(pts)).attr("fill", "none").attr("stroke", "#4a4a4a").attr("stroke-width", 1).attr("stroke-dasharray", "1 1.6");
	calloutG.append("circle").attr("cx", pts[0][0]).attr("cy", pts[0][1]).attr("r", 4).attr("fill", "#58595b");
});
hotspotLabels.forEach((name, i) => {
	const [x, y, w, anchor] = labelLayout[i];
	fitText(svg, name, x, y, w, 22, "#58595b", anchor);
});
iconRows.forEach((row) => {
	const y = row[row.length - 1];
	row.slice(0, -1).forEach(([key, x]) => icon(svg, key, x, y, "#808285"));
});

// Legend
const legend = svg.append("g");
legend.append("rect").attr("x", 64).attr("y", 514).attr("width", 296).attr("height", 240).attr("rx", 18)
	.attr("fill", "#fff").attr("fill-opacity", 0.72).attr("stroke", "#8a8a8a").attr("stroke-width", 1).attr("filter", "url(#boxShadow)");
levelNames.forEach((name, i) => {
	legend.append("rect").attr("x", 87).attr("y", 533 + i * 24.5).attr("width", 23).attr("height", 13).attr("fill", levelColors[i]);
	fitText(legend, name, 126, 544 + i * 24.7, [184, 195, 59][i], 14, levelColors[i], "start", 700);
});
fitText(legend, "Key drivers and aggravating factors", 86, 629, 211, 15, "#58595b");
const legendLayout = [
	[96, 655, 115.7, 661, 91], [235, 655, 257, 662, 87], [96, 689, 116, 694, 27],
	[233, 689, 257, 694, 71], [96, 721, 116, 726, 55], [233, 719, 253, 725, 68],
];
driverKeys.forEach((key, i) => {
	const [ix, iy, tx, ty, w] = legendLayout[i];
	icon(legend, key, ix, iy, "#3c3c3c");
	fitText(legend, driverNames[i], tx, ty, w, 12.5, "#58595b", "start", 300);
});

// Title and button
fitText(svg, "Map of early warning hunger hotspots:", 64, 71, 591, 38, "#58595b", "start", 700);
fitText(svg, "June to October 2025", 64, 115, 331, 38, "#0079c1", "start", 700);
svg.append("rect").attr("x", 1075).attr("y", 51).attr("width", 181).attr("height", 34).attr("rx", 8).attr("fill", "#0079c1");
fitText(svg, "MORE INFORMATION", 1165.5, 72, 109, 11.5, "#fff", "middle", 700);

// Sources
const sourceLines = [
	[{ text: "Source of data:", weight: 700, color: "#58595b" }, { text: " WFP and FAO. 2025. " }, { text: "Hunger Hotspots analysis (June to October 2025)", italic: true }, { text: ". Rome." }],
	[{ text: "Source of map:", weight: 700, color: "#58595b" }, { text: " United Nations Geospatial. 2025. Map of the World. In: " }, { text: "United Nations", italic: true }, { text: ". [Cited 7 April 2025]. " }, { text: "https://www.un.org/geospatial/content/map-world-1", color: "#1a8ac9" }, { text: ". Refer to the disclaimer on page ii for the names and boundaries used in this map. Dotted line represents approximately the" }],
	[{ text: "Line of Control in Jammu and Kashmir agreed upon by India and Pakistan. The final status of Jammu and Kashmir has not yet been agreed upon by the parties. Final boundary between the Republic of Sudan and Republic of South Sudan has not yet been determined. Final status of the" }],
	[{ text: "Abyei area is not yet determined." }],
];
const sourceWidths = [387, 1176, 1180, 136];
sourceLines.forEach((parts, i) => {
	fitText(svg, parts, 63.5, 818.5 + i * 13.9, sourceWidths[i], 9.5, "#222");
});
</script>
</body>
</html>
